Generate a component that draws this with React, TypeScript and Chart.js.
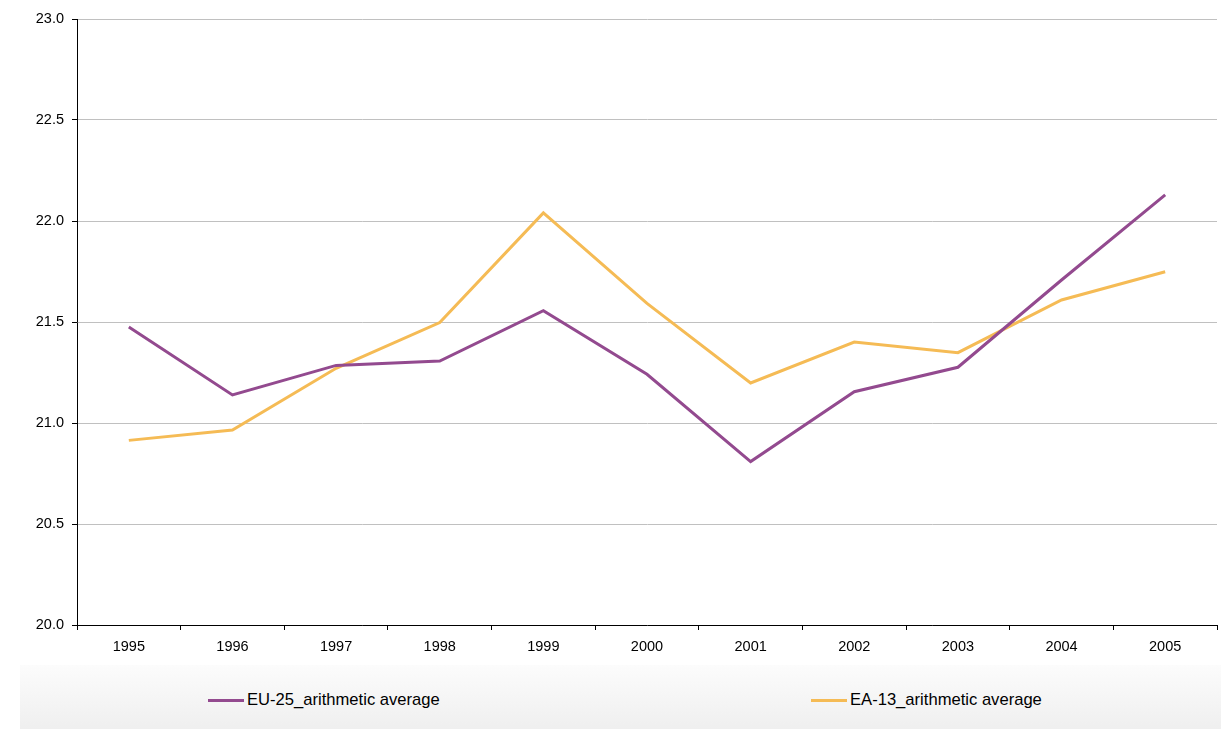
import React, { useEffect, useRef } from "react";
import { Chart, registerables } from "chart.js";

Chart.register(...registerables);

const years = ["1995", "1996", "1997", "1998", "1999", "2000", "2001", "2002", "2003", "2004", "2005"];
const eu25 = [21.475, 21.139, 21.285, 21.307, 21.556, 21.241, 20.809, 21.155, 21.276, 21.708, 22.129];
const ea13 = [20.914, 20.965, 21.271, 21.497, 22.04, 21.592, 21.198, 21.401, 21.348, 21.609, 21.749];
const seriesNames = ["EU-25_arithmetic average", "EA-13_arithmetic average"];
const seriesColors = ["#934a8f", "#f5bb55"];
const yMin = 20;
const yMax = 23;
const yStep = 0.5;

const FONT = "'Liberation Sans', Arial, sans-serif";

export default function App() {
  const canvasRef = useRef<HTMLCanvasElement | null>(null);

  useEffect(() => {
    const canvas = canvasRef.current;
    if (!canvas) return;
    const chart = new Chart(canvas, {
      type: "line",
      data: {
        labels: years,
        datasets: [
          {
            label: seriesNames[0],
            data: eu25,
            borderColor: seriesColors[0],
            backgroundColor: seriesColors[0],
            borderWidth: 3,
            pointRadius: 0,
            tension: 0,
            fill: false,
          },
          {
            label: seriesNames[1],
            data: ea13,
            borderColor: seriesColors[1],
            backgroundColor: seriesColors[1],
            borderWidth: 3,
            pointRadius: 0,
            tension: 0,
            fill: false,
          },
        ],
      },
      options: {
        responsive: false,
        animation: false,
        devicePixelRatio: 1,
        layout: { padding: { top: 19, right: 4, left: 0, bottom: 0 } },
        plugins: {
          legend: { display: false },
          tooltip: { enabled: false },
          title: { display: false },
        },
        scales: {
          x: {
            type: "category",
            offset: true,
            grid: {
              display: true,
              offset: true,
              drawOnChartArea: false,
              drawTicks: true,
              tickLength: 5,
              color: "#000000",
              tickColor: "#000000",
            },
            border: { display: true, color: "#000000", width: 1 },
            ticks: {
              color: "#000000",
              font: { family: FONT, size: 14.5 },
              padding: 8,
              maxRotation: 0,
              autoSkip: false,
            },
            afterFit: (s: any) => {
              s.height = 729 - 625;
            },
          },
          y: {
            type: "linear",
            min: yMin,
            max: yMax,
            grid: {
              color: "#c0c0c0",
              tickColor: "#000000",
              tickLength: 5,
              drawTicks: true,
            },
            border: { display: true, color: "#000000", width: 1 },
            ticks: {
              stepSize: yStep,
              color: "#000000",
              font: { family: FONT, size: 14.5 },
              padding: 8,
              callback: (v: any) => Number(v).toFixed(1),
            },
            afterFit: (s: any) => {
              s.width = 77;
            },
          },
        },
      },
    });
    return () => chart.destroy();
  }, []);

  const legendItem = (i: number, left: number) => (
    <div
      key={i}
      style={{
        position: "absolute",
        left,
        top: 3,
        height: 64,
        display: "flex",
        alignItems: "center",
        fontFamily: FONT,
        fontSize: 16.6,
        color: "#000",
        whiteSpace: "nowrap",
      }}
    >
      <div style={{ width: 36, height: 3, background: seriesColors[i], marginRight: 3, marginTop: 0 }} />
      <span>{seriesNames[i]}</span>
    </div>
  );

  return (
    <div style={{ position: "absolute", left: 0, top: 0, width: 1221, height: 729, background: "#fff" }}>
      <canvas ref={canvasRef} width={1221} height={729} style={{ position: "absolute", left: 0, top: 0 }} />
      <div
        style={{
          position: "absolute",
          left: 20,
          top: 665,
          width: 1201,
          height: 64,
          overflow: "hidden",
          background: "linear-gradient(to bottom, #fcfcfc, #efefef)",
        }}
      >
        {legendItem(0, 188)}
        {legendItem(1, 791)}
      </div>
    </div>
  );
}
